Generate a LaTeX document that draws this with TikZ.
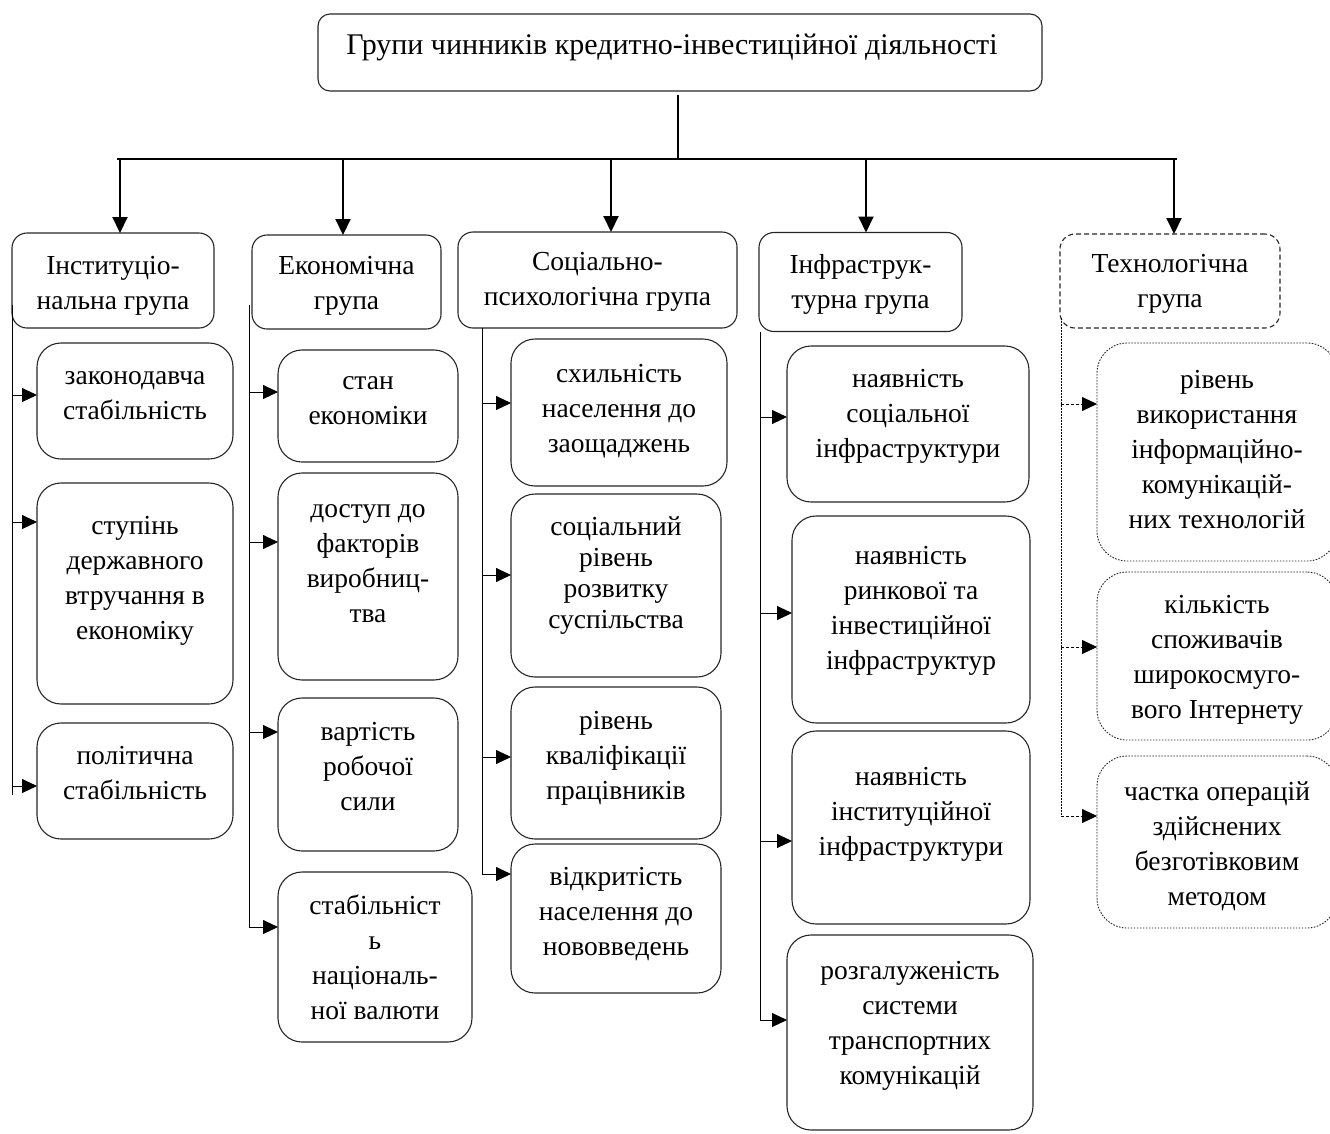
\documentclass[tikz,border=0pt]{standalone}
\usepackage{fontspec}
\setmainfont{Liberation Serif}
\usetikzlibrary{arrows.meta}
\begin{document}
\begin{tikzpicture}[x=1pt,y=-1pt,
  titlebox/.style={draw=black!85, line width=1.1pt, rounded corners=12pt, inner sep=0pt, outer sep=0pt},
  hdr/.style={draw=black!85, line width=1.1pt, rounded corners=15pt, inner sep=0pt, outer sep=0pt},
  hdrdash/.style={hdr, dash pattern=on 5pt off 3pt},
  subbox/.style={draw=black!85, line width=1.1pt, rounded corners=24pt, inner sep=0pt, outer sep=0pt},
  subdot/.style={draw=black!85, line width=0.9pt, rounded corners=30pt, inner sep=0pt, outer sep=0pt, dash pattern=on 1.6pt off 1.4pt},
  txt/.style={align=center, inner sep=0pt, font=\fontsize{27.5}{35}\selectfont},
  bus/.style={line width=1.6pt, black},
  tarr/.style={line width=2pt, black, -{Triangle[length=16pt,width=15pt]}},
  trunk/.style={line width=0.9pt, black},
  dtrunk/.style={line width=0.8pt, black, dash pattern=on 1.6pt off 1.4pt},
  sarr/.style={line width=0.9pt, black, -{Triangle[length=15pt,width=14pt]}},
  dsarr/.style={line width=0.8pt, black, dash pattern=on 3pt off 2pt, -{Triangle[length=15pt,width=14pt]}}
]
\useasboundingbox (0,0) rectangle (1330,1133);

% title
\node[titlebox, minimum width=724pt, minimum height=77pt] (title) at (680,52.5) {};
\node[txt, font=\fontsize{30}{35}\selectfont] (titlet) at (672,47) {\strut Групи чинників кредитно-інвестиційної діяльності};

% bus
\coordinate (busL) at (117,159);
\coordinate (busR) at (1177,159);
\coordinate (tc) at (678,159);
\draw[line width=1.3pt, shorten <=4pt] (tc |- title.south) -- (tc);
\draw[bus] (busL) -- (busR);

% group headers
\node[hdr, minimum width=202pt, minimum height=95pt] (g1) at (113,280.5) {};
\node[txt] (g1t) at (113,285) {\strut Інституціо-\\\strut нальна група};
\node[hdr, minimum width=189pt, minimum height=94pt] (g2) at (346.5,282) {};
\node[txt] (g2t) at (346.5,285) {\strut Економічна\\\strut група};
\node[hdr, minimum width=279pt, minimum height=96pt] (g3) at (597.5,280) {};
\node[txt] (g3t) at (597.5,281) {\strut Соціально-\\\strut психологічна група};
\node[hdr, minimum width=203pt, minimum height=99pt] (g4) at (860.5,282) {};
\node[txt] (g4t) at (860.5,284) {\strut Інфраструк-\\\strut турна група};
\node[hdrdash, minimum width=220pt, minimum height=94pt] (g5) at (1170,281) {};
\node[txt] (g5t) at (1170,283) {\strut Технологічна\\\strut група};

% top arrows
\coordinate (b1) at (120,159);
\coordinate (b2) at (343,159);
\coordinate (b3) at (611,159);
\coordinate (b4) at (866,159);
\coordinate (b5) at (1174,159);
\draw[tarr] (b1) -- (b1 |- g1.north);
\draw[tarr] (b2) -- (b2 |- g2.north);
\draw[tarr] (b3) -- (b3 |- g3.north);
\draw[tarr] (b4) -- (b4 |- g4.north);
\draw[tarr] (b5) -- (b5 |- g5.north);

% group 1
\node[subbox, minimum width=196pt, minimum height=116pt] (s11) at (135,401) {};
\node[txt] (s11t) at (135,394.5) {\strut законодавча\\\strut стабільність};
\node[subbox, minimum width=196pt, minimum height=221pt] (s12) at (135,593.5) {};
\node[txt] (s12t) at (135,580) {\strut ступінь\\\strut державного\\\strut втручання в\\\strut економіку};
\node[subbox, minimum width=196pt, minimum height=116pt] (s13) at (135,781) {};
\node[txt] (s13t) at (135,774.5) {\strut політична\\\strut стабільність};
\coordinate (t1a) at (12,305);
\coordinate (t1z) at (12,795);
\draw[trunk] (t1a) -- (t1z);
\coordinate (a11) at (12,395);
\coordinate (a12) at (12,522);
\coordinate (a13) at (12,786);
\draw[sarr] (a11) -- (a11 -| s11.west);
\draw[sarr] (a12) -- (a12 -| s12.west);
\draw[sarr] (a13) -- (a13 -| s13.west);

% group 2
\node[subbox, minimum width=180pt, minimum height=112pt] (s21) at (368,406) {};
\node[txt] (s21t) at (368,400) {\strut стан\\\strut економіки};
\node[subbox, minimum width=180pt, minimum height=207pt] (s22) at (368,576.5) {};
\node[txt] (s22t) at (368,562.5) {\strut доступ до\\\strut факторів\\\strut виробниц-\\\strut тва};
\node[subbox, minimum width=180pt, minimum height=153pt] (s23) at (368,774.5) {};
\node[txt] (s23t) at (368,768) {\strut вартість\\\strut робочої\\\strut сили};
\node[subbox, minimum width=194pt, minimum height=170pt] (s24) at (375,957) {};
\node[txt] (s24t) at (375,960) {\strut стабільніст\\\strut ь\\\strut національ-\\\strut ної валюти};
\coordinate (t2a) at (249,305);
\coordinate (a21) at (249,392);
\coordinate (a22) at (249,542);
\coordinate (a23) at (249,732);
\coordinate (a24) at (249,927);
\draw[trunk] (t2a) -- (a24);
\draw[sarr] (a21) -- (a21 -| s21.west);
\draw[sarr] (a22) -- (a22 -| s22.west);
\draw[sarr] (a23) -- (a23 -| s23.west);
\draw[sarr] (a24) -- (a24 -| s24.west);

% group 3
\node[subbox, minimum width=216pt, minimum height=147pt] (s31) at (619,412.5) {};
\node[txt] (s31t) at (619,410) {\strut схильність\\\strut населення до\\\strut заощаджень};
\node[subbox, minimum width=210pt, minimum height=183pt] (s32) at (616,585.5) {};
\node[txt, font=\fontsize{27.5}{31}\selectfont] (s32t) at (616,576) {\strut соціальний\\\strut рівень\\\strut розвитку\\\strut суспільства};
\node[subbox, minimum width=210pt, minimum height=152pt] (s33) at (616,763) {};
\node[txt] (s33t) at (616,757) {\strut рівень\\\strut кваліфікації\\\strut працівників};
\node[subbox, minimum width=210pt, minimum height=149pt] (s34) at (616,918.5) {};
\node[txt] (s34t) at (616,913.5) {\strut відкритість\\\strut населення до\\\strut нововведень};
\coordinate (t3a) at (482,328);
\coordinate (a31) at (482,403);
\coordinate (a32) at (482,575);
\coordinate (a33) at (482,757);
\coordinate (a34) at (482,874);
\draw[trunk] (t3a) -- (a34);
\draw[sarr] (a31) -- (a31 -| s31.west);
\draw[sarr] (a32) -- (a32 -| s32.west);
\draw[sarr] (a33) -- (a33 -| s33.west);
\draw[sarr] (a34) -- (a34 -| s34.west);

% group 4
\node[subbox, minimum width=242pt, minimum height=156pt] (s41) at (908,424) {};
\node[txt] (s41t) at (908,415) {\strut наявність\\\strut соціальної\\\strut інфраструктури};
\node[subbox, minimum width=238pt, minimum height=207pt] (s42) at (911,619.5) {};
\node[txt] (s42t) at (911,609.5) {\strut наявність\\\strut ринкової та\\\strut інвестиційної\\\strut інфраструктур};
\node[subbox, minimum width=238pt, minimum height=193pt] (s43) at (911,827.5) {};
\node[txt] (s43t) at (911,813) {\strut наявність\\\strut інституційної\\\strut інфраструктури};
\node[subbox, minimum width=246pt, minimum height=195pt] (s44) at (910,1032.5) {};
\node[txt] (s44t) at (910,1024.5) {\strut розгалуженість\\\strut системи\\\strut транспортних\\\strut комунікацій};
\coordinate (t4a) at (760,332);
\coordinate (a41) at (760,417);
\coordinate (a42) at (760,613);
\coordinate (a43) at (760,841);
\coordinate (a44) at (760,1020);
\draw[trunk] (t4a) -- (a44);
\draw[sarr] (a41) -- (a41 -| s41.west);
\draw[sarr] (a42) -- (a42 -| s42.west);
\draw[sarr] (a43) -- (a43 -| s43.west);
\draw[sarr] (a44) -- (a44 -| s44.west);

% group 5
\node[subdot, minimum width=240pt, minimum height=218pt] (s51) at (1217,452) {};
\node[txt] (s51t) at (1217,451) {\strut рівень\\\strut використання\\\strut інформаційно-\\\strut комунікацій-\\\strut них технологій};
\node[subdot, minimum width=240pt, minimum height=168pt] (s52) at (1217,656) {};
\node[txt] (s52t) at (1217,659) {\strut кількість\\\strut споживачів\\\strut широкосмуго-\\\strut вого Інтернету};
\node[subdot, minimum width=240pt, minimum height=172pt] (s53) at (1217,842) {};
\node[txt] (s53t) at (1217,846) {\strut частка операцій\\\strut здійснених\\\strut безготівковим\\\strut методом};
\coordinate (t5a) at (1061,318);
\coordinate (a51) at (1061,404);
\coordinate (a52) at (1061,647);
\coordinate (a53) at (1061,816);
\draw[dtrunk] (t5a) -- (a53);
\draw[dsarr] (a51) -- (a51 -| s51.west);
\draw[dsarr] (a52) -- (a52 -| s52.west);
\draw[dsarr] (a53) -- (a53 -| s53.west);
\end{tikzpicture}
\end{document}
